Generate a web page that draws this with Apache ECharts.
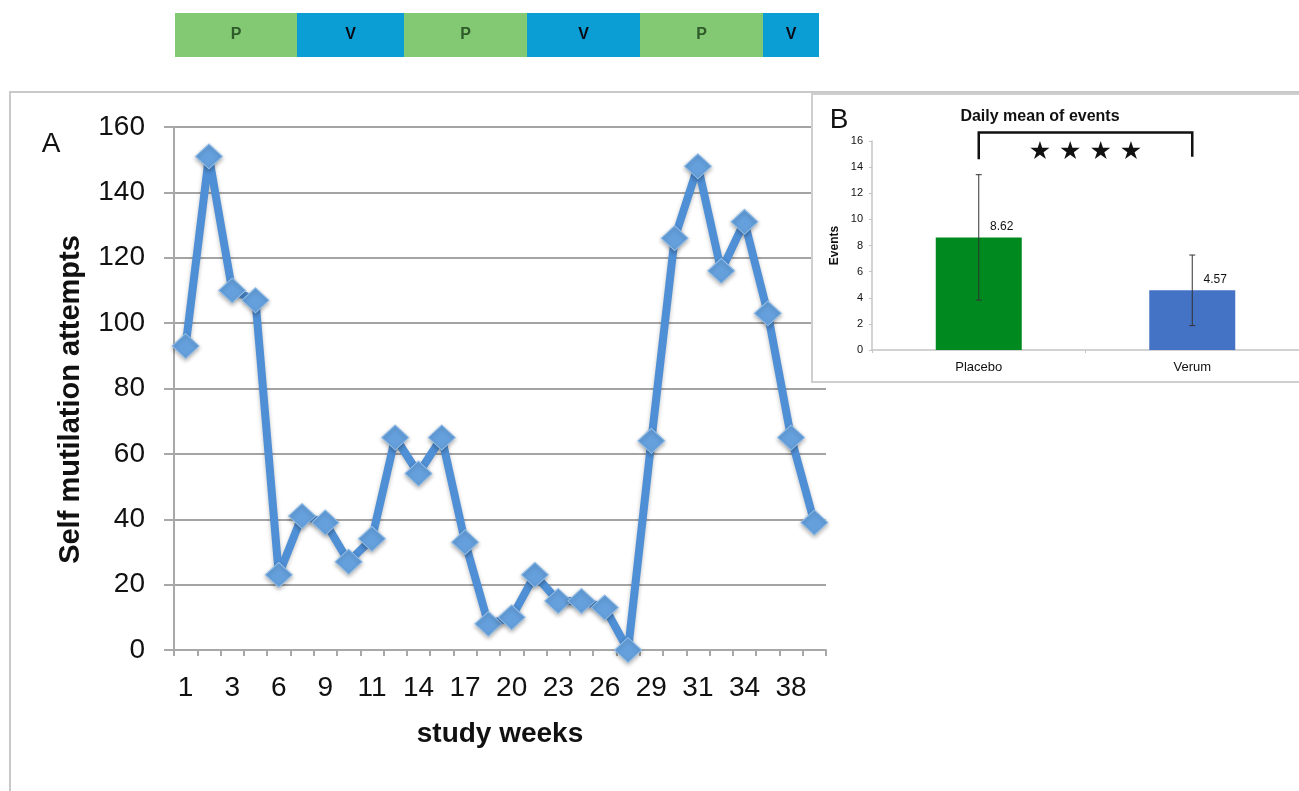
<!DOCTYPE html>
<html>
<head>
<meta charset="utf-8">
<script src="https://cdn.jsdelivr.net/npm/echarts@6/dist/echarts.min.js"></script>
<style>
html,body{margin:0;padding:0;background:#fff;}
#chart{width:1299px;height:791px;}
</style>
</head>
<body>
<div id="chart"></div>
<script>
// ---- Panel A data ----
var weeks = ['1','2','3','5','6','8','9','10','11','13','14','16','17','19','20','22','23','25','26','28','29','30','31','33','34','36','38','40'];
var attempts = [93,151,110,107,23,41,39,27,34,65,54,65,33,8,10,23,15,15,13,0,64,126,148,116,131,103,65,39];
var yTicksA = [0,20,40,60,80,100,120,140,160];

// ---- Phase bar data ----
var phaseNames = ['P','V','P','V','P','V'];
var phaseDurations = [122,107,123,113,123,56];

// ---- Panel B data ----
var groups = ['Placebo','Verum'];
var dailyMean = [8.62, 4.57];
var errLow = [3.82, 1.87];
var errHigh = [13.42, 7.27];
var bracket = [[0, 1, 16.65, 14.6, 14.8, 15.15]];
var sigLabel = '★ ★ ★ ★';

var FONT = 'Liberation Sans, Arial, Helvetica, sans-serif';
var chart = echarts.init(document.getElementById('chart'));

var phaseColors = {P:'#83c872', V:'#0b9ed5'};
var phaseTextColors = {P:'#2f5a2a', V:'#0a0a14'};
var phaseTotal = phaseDurations.reduce(function(a,b){return a+b;},0);
var phaseSeries = phaseNames.map(function(n,i){
  return {
    type:'bar', xAxisIndex:2, yAxisIndex:2, stack:'phase', barWidth:'100%',
    data:[phaseDurations[i]],
    itemStyle:{color:phaseColors[n]},
    label:{show:true, position:'inside', formatter:n, color:phaseTextColors[n],
      fontFamily:FONT, fontWeight:'bold', fontSize:16},
    silent:true
  };
});

var option = {
  animation:false,
  backgroundColor:'#fff',
  graphic:[
    {type:'rect', z:0, shape:{x:10, y:92, width:1320, height:720},
      style:{fill:'none', stroke:'#c9c9c9', lineWidth:2}},
    {type:'rect', z:10, shape:{x:812, y:94, width:500, height:288},
      style:{fill:'#fff', stroke:'#cfcfcf', lineWidth:2}},
    {type:'text', z:30, x:51, y:144, style:{text:'A', font:'28px ' + FONT, fill:'#111', textAlign:'center', textVerticalAlign:'middle'}},
    {type:'text', z:30, x:839, y:120, style:{text:'B', font:'28px ' + FONT, fill:'#111', textAlign:'center', textVerticalAlign:'middle'}},
    {type:'text', z:30, x:1040, y:117, style:{text:'Daily mean of events', font:'bold 16px ' + FONT, fill:'#111', textAlign:'center', textVerticalAlign:'middle'}}
  ],
  grid:[
    {left:174, top:127, width:652, height:523},
    {left:872, top:141, width:430, height:209, z:20},
    {left:175, top:13, width:644, height:44}
  ],
  xAxis:[
    {gridIndex:0, type:'category', data:weeks, boundaryGap:true,
      axisLine:{lineStyle:{color:'#a8a8a8', width:2}},
      axisTick:{show:true, interval:0, length:6, lineStyle:{color:'#a8a8a8', width:2}},
      axisLabel:{interval:1, fontFamily:FONT, fontSize:28, color:'#111', margin:24},
      name:'study weeks', nameLocation:'middle', nameGap:70,
      nameTextStyle:{fontFamily:FONT, fontWeight:'bold', fontSize:28, color:'#111'}},
    {gridIndex:1, type:'category', data:groups, boundaryGap:true, z:20,
      axisLine:{lineStyle:{color:'#c4c4c4', width:1.5}},
      axisTick:{show:true, length:3, lineStyle:{color:'#c4c4c4'}},
      axisLabel:{fontFamily:FONT, fontSize:13, color:'#111', margin:11}},
    {gridIndex:2, type:'value', min:0, max:phaseTotal, show:false}
  ],
  yAxis:[
    {gridIndex:0, type:'value', min:0, max:160, interval:20,
      axisLine:{show:true, lineStyle:{color:'#a8a8a8', width:2}},
      axisTick:{show:true, length:10, lineStyle:{color:'#a8a8a8', width:2}},
      splitLine:{lineStyle:{color:'#a4a4a4', width:2}},
      axisLabel:{fontFamily:FONT, fontSize:28, color:'#111', margin:29},
      name:'Self mutilation attempts', nameLocation:'middle', nameGap:89,
      nameTextStyle:{fontFamily:FONT, fontWeight:'bold', fontSize:29, color:'#111', padding:[0,22,0,0]}},
    {gridIndex:1, type:'value', min:0, max:16, interval:2, z:20,
      axisLine:{show:true, lineStyle:{color:'#c4c4c4', width:1.5}},
      axisTick:{show:true, length:3, lineStyle:{color:'#c4c4c4'}},
      splitLine:{show:false},
      axisLabel:{fontFamily:FONT, fontSize:11, color:'#111', margin:9},
      name:'Events', nameLocation:'middle', nameGap:31,
      nameTextStyle:{fontFamily:FONT, fontWeight:'bold', fontSize:12, color:'#111'}},
    {gridIndex:2, type:'category', data:['phase'], show:false}
  ],
  series:[
    {type:'line', xAxisIndex:0, yAxisIndex:0, data:attempts, z:3,
      symbol:'diamond', symbolSize:[27,25], showAllSymbol:true,
      lineStyle:{color:'#4f8fd5', width:8, shadowColor:'rgba(0,0,0,0.25)', shadowBlur:4, shadowOffsetY:2},
      itemStyle:{color:'#65a0dd', borderColor:'#92bfea', borderWidth:1, shadowColor:'rgba(0,0,0,0.3)', shadowBlur:4, shadowOffsetY:2}},
    {type:'bar', xAxisIndex:1, yAxisIndex:1, z:20, barWidth:86,
      data:dailyMean.map(function(v,i){return {value:v, itemStyle:{color:i===0?'#00891f':'#4472c4'}};}),
      label:{show:true, position:'top', distance:5, offset:[23,0], fontFamily:FONT, fontSize:12, color:'#111'}},
    {type:'custom', xAxisIndex:1, yAxisIndex:1, z:25,
      data:groups.map(function(g,i){return [i, errLow[i], errHigh[i]];}),
      renderItem:function(params, api){
        var lo = api.coord([api.value(0), api.value(1)]);
        var hi = api.coord([api.value(0), api.value(2)]);
        var c = 3;
        var st = {stroke:'#333', lineWidth:1};
        return {type:'group', children:[
          {type:'line', shape:{x1:lo[0], y1:lo[1], x2:hi[0], y2:hi[1]}, style:st},
          {type:'line', shape:{x1:lo[0]-c, y1:lo[1], x2:lo[0]+c, y2:lo[1]}, style:st},
          {type:'line', shape:{x1:hi[0]-c, y1:hi[1], x2:hi[0]+c, y2:hi[1]}, style:st}
        ]};
      }},
    {type:'custom', xAxisIndex:1, yAxisIndex:1, z:25, data:bracket,
      renderItem:function(params, api){
        var top = api.value(2);
        var a = api.coord([api.value(0), top]);
        var b = api.coord([api.value(1), top]);
        var aEnd = api.coord([api.value(0), api.value(3)]);
        var bEnd = api.coord([api.value(1), api.value(4)]);
        var s = api.coord([api.value(0), api.value(5)]);
        return {type:'group', children:[
          {type:'polyline', shape:{points:[aEnd, a, b, bEnd]}, style:{stroke:'#111', lineWidth:2.5, fill:'none'}},
          {type:'text', style:{text:sigLabel, x:(a[0]+b[0])/2, y:s[1], textAlign:'center', textVerticalAlign:'middle',
            font:'25px DejaVu Sans, sans-serif', fill:'#111'}}
        ]};
      }}
  ].concat(phaseSeries)
};
chart.setOption(option);
</script>
</body>
</html>
